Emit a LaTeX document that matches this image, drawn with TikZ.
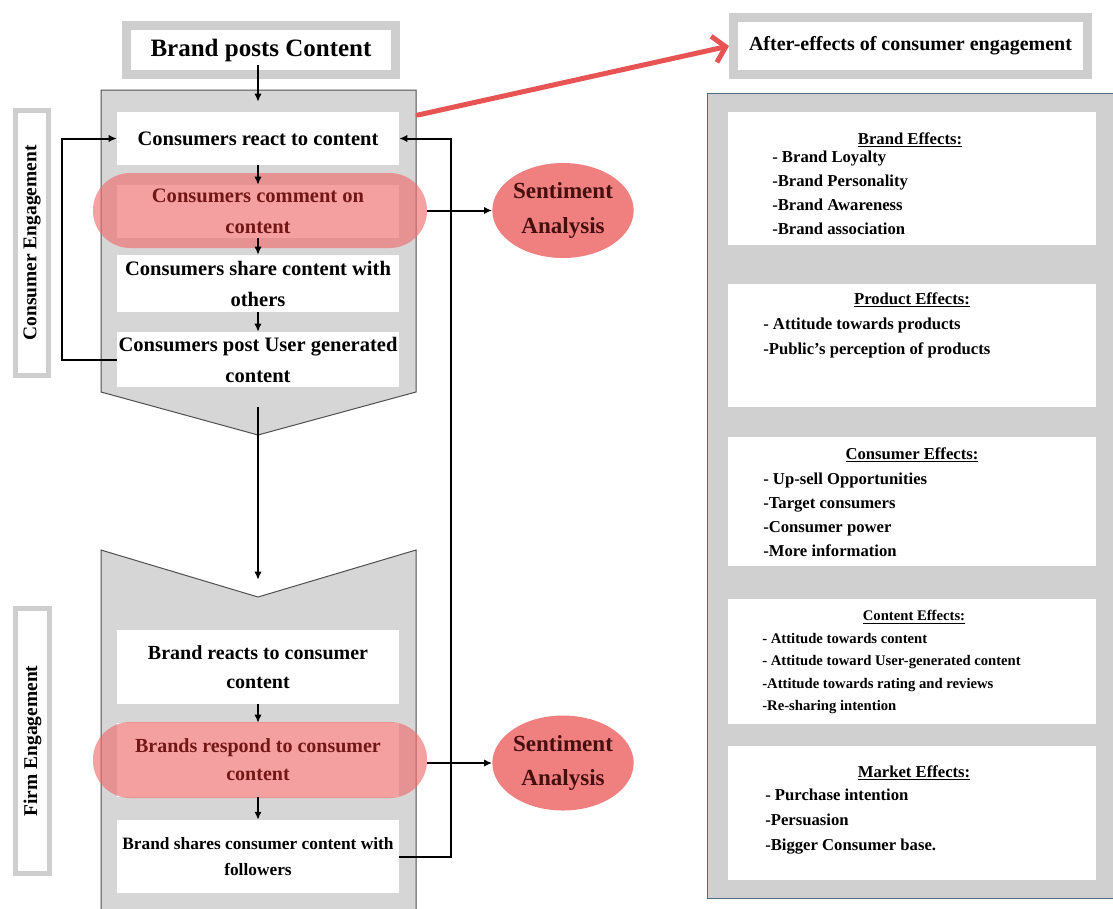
\documentclass[tikz,border=0pt]{standalone}
\usepackage{fontspec}
\setmainfont{Liberation Serif}
\usetikzlibrary{arrows.meta,shapes.geometric}

\definecolor{chevgray}{RGB}{214,214,214}
\definecolor{chevline}{RGB}{80,80,80}
\definecolor{framegray}{RGB}{206,206,206}
\definecolor{panelgray}{RGB}{208,208,208}
\definecolor{panelblue}{RGB}{80,105,135}
\definecolor{hired}{RGB}{240,110,110}
\definecolor{sentired}{RGB}{240,128,128}
\definecolor{darkred}{RGB}{115,22,22}
\definecolor{sentitext}{RGB}{70,15,15}
\definecolor{arrowred}{RGB}{232,84,84}

\tikzset{
  stage/.style={minimum width=211.5pt, inner sep=0pt, align=center, font=\fontsize{15.4}{23.25}\selectfont\bfseries},
  hilite/.style={fill=hired, fill opacity=0.65, rounded corners=28pt, minimum width=250.5pt},
  frame/.style={draw=framegray, fill=white, inner sep=0pt},
  side/.style={frame, line width=3.75pt, rotate=90, minimum width=198.75pt, minimum height=25pt, font=\fontsize{14.6}{16}\selectfont\bfseries},
  senti/.style={ellipse, fill=sentired, minimum width=95.25pt, minimum height=71.25pt, inner sep=0pt, align=center, text=sentitext, font=\fontsize{17.3}{26}\selectfont\bfseries},
  conn/.style={line width=1.5pt, -{Latex[length=6pt,width=5.5pt]}},
  redarrow/.style={draw=arrowred, line width=3.75pt, line cap=round, -{Straight Barb[length=9pt,width=20pt]}},
  fxbox/.style={fill=white, minimum width=276pt, inner sep=0pt},
  fxhead/.style={inner sep=0pt, font=\fontsize{12.5}{15}\selectfont\bfseries},
  fxitem/.style={anchor=north west, align=left, inner sep=0pt, font=\fontsize{12.5}{18}\selectfont\bfseries}
}

\begin{document}
\begin{tikzpicture}[x=0.75pt, y=-0.75pt]
    \useasboundingbox (0,0) rectangle (1113,908);

    % engagement blocks
    \filldraw[fill=chevgray, draw=chevline, line width=0.75pt] (101,90) -- (416,90) -- (416,392) -- (258,435) -- (101,392) -- cycle;
    \fill[chevgray] (101,912) -- (101,550) -- (258,597) -- (416,550) -- (416,912) -- cycle;
    \draw[chevline, line width=0.75pt] (101,912) -- (101,550) -- (258,597) -- (416,550) -- (416,912);

    \fill[white] (117,185) rectangle (399,238);
    \fill[white] (117,723) rectangle (399,797);
    \node (cmark) at (260,210.5) [hilite, minimum height=56.25pt] {};
    \node (rmark) at (260,760) [hilite, minimum height=57pt] {};

    \node (bpost) at (261,50) [frame, line width=6.5pt, minimum width=201.75pt, minimum height=36.75pt, font=\fontsize{18.75}{20}\selectfont\bfseries] {Brand posts Content};

    \node (react) at (258,138.5) [stage, fill=white, minimum height=39.75pt] {Consumers react to content};
    \node (comment) at (258,211.5) [stage, text=darkred, minimum height=39.75pt] {Consumers comment on\\content};
    \node (share) at (258,283.5) [stage, fill=white, minimum height=42.75pt] {Consumers share content with\\others};
    \node (post) at (258,359.5) [stage, fill=white, minimum height=41.25pt] {Consumers post User generated\\content};

    \node (breact) at (258,667) [stage, fill=white, minimum height=55.5pt, font=\fontsize{15}{21.75}\selectfont\bfseries] {Brand reacts to consumer\\content};
    \node (respond) at (258,760) [stage, text=darkred, minimum height=55.5pt, font=\fontsize{15}{21}\selectfont\bfseries] {Brands respond to consumer\\content};
    \node (bshare) at (258,856.5) [stage, fill=white, minimum height=54.75pt, font=\fontsize{13}{19.5}\selectfont\bfseries] {Brand shares consumer content with\\followers};

    \node (celabel) at (32,243) [side] {Consumer Engagement};
    \node (felabel) at (32.5,741) [side] {Firm Engagement};

    \node (senti1) at (563,210.5) [senti] {Sentiment\\Analysis};
    \node (senti2) at (563,763) [senti] {Sentiment\\Analysis};

    % after-effects
    \node (after) at (910.5,46) [frame, line width=6.75pt, minimum width=265.5pt, minimum height=42.75pt, font=\fontsize{15}{18}\selectfont\bfseries] {After-effects of consumer engagement};
    \filldraw[fill=panelgray, draw=panelblue, line width=0.75pt] (707,93) rectangle (1125,898);

    \node (brandfx) at (912,178.5) [fxbox, minimum height=99.75pt] {};
    \node (prodfx) at (912,345.5) [fxbox, minimum height=92.25pt] {};
    \node (consfx) at (912,501.5) [fxbox, minimum height=96.75pt] {};
    \node (contfx) at (912,661.5) [fxbox, minimum height=93.75pt] {};
    \node (markfx) at (912,813) [fxbox, minimum height=100.5pt] {};

    \node (brandhead) at (910,140) [fxhead] {\underline{Brand Effects:}};
    \node (prodhead) at (912,300) [fxhead] {\underline{Product Effects:}};
    \node (conshead) at (912,455) [fxhead] {\underline{Consumer Effects:}};
    \node (conthead) at (914,617) [fxhead, font=\fontsize{11}{13}\selectfont\bfseries] {\underline{Content Effects:}};
    \node (markhead) at (914,773) [fxhead] {\underline{Market Effects:}};

    \node (branditems) at (772,150.5) [fxitem] {- Brand Loyalty\\-Brand Personality\\-Brand Awareness\\-Brand association};
    \node (proditems) at (763,317.5) [fxitem, font=\fontsize{12.5}{18.75}\selectfont\bfseries] {- Attitude towards products\\-Public's perception of products};
    \node (consitems) at (763,472.5) [fxitem] {- Up-sell Opportunities\\-Target consumers\\-Consumer power\\-More information};
    \node (contitems) at (762,633) [fxitem, font=\fontsize{11}{16.75}\selectfont\bfseries] {- Attitude towards content\\- Attitude toward User-generated content\\-Attitude towards rating and reviews\\-Re-sharing intention};
    \node (markitems) at (765,788.5) [fxitem, font=\fontsize{12.5}{18.75}\selectfont\bfseries] {- Purchase intention\\-Persuasion\\-Bigger Consumer base.};

    % connectors
    \coordinate (cecorner) at (418,115);
    \coordinate (lloop) at (62,138.5);
    \coordinate (rloop) at (451,138.5);

    \draw[conn, shorten <=-10.5pt, shorten >=7.5pt] (bpost.south -| react.north) -- (react.north);
    \draw[conn] (react) -- (comment);
    \draw[conn] (comment) -- (share);
    \draw[conn] (share) -- (post);
    \draw[conn, shorten <=15pt, shorten >=37.5pt] (post) -- (breact);
    \draw[conn] (breact) -- (respond);
    \draw[conn] (respond) -- (bshare);
    \draw[conn] (post.west) -| (lloop) -- (react.west);
    \draw[conn] (bshare.east) -| (rloop) -- (react.east);
    \draw[conn] (cmark.east) -- (cmark.east -| senti1.west);
    \draw[conn] (rmark.east |- senti2.west) -- (senti2.west);
    \draw[redarrow] (cecorner) -- (after.west);
\end{tikzpicture}
\end{document}
